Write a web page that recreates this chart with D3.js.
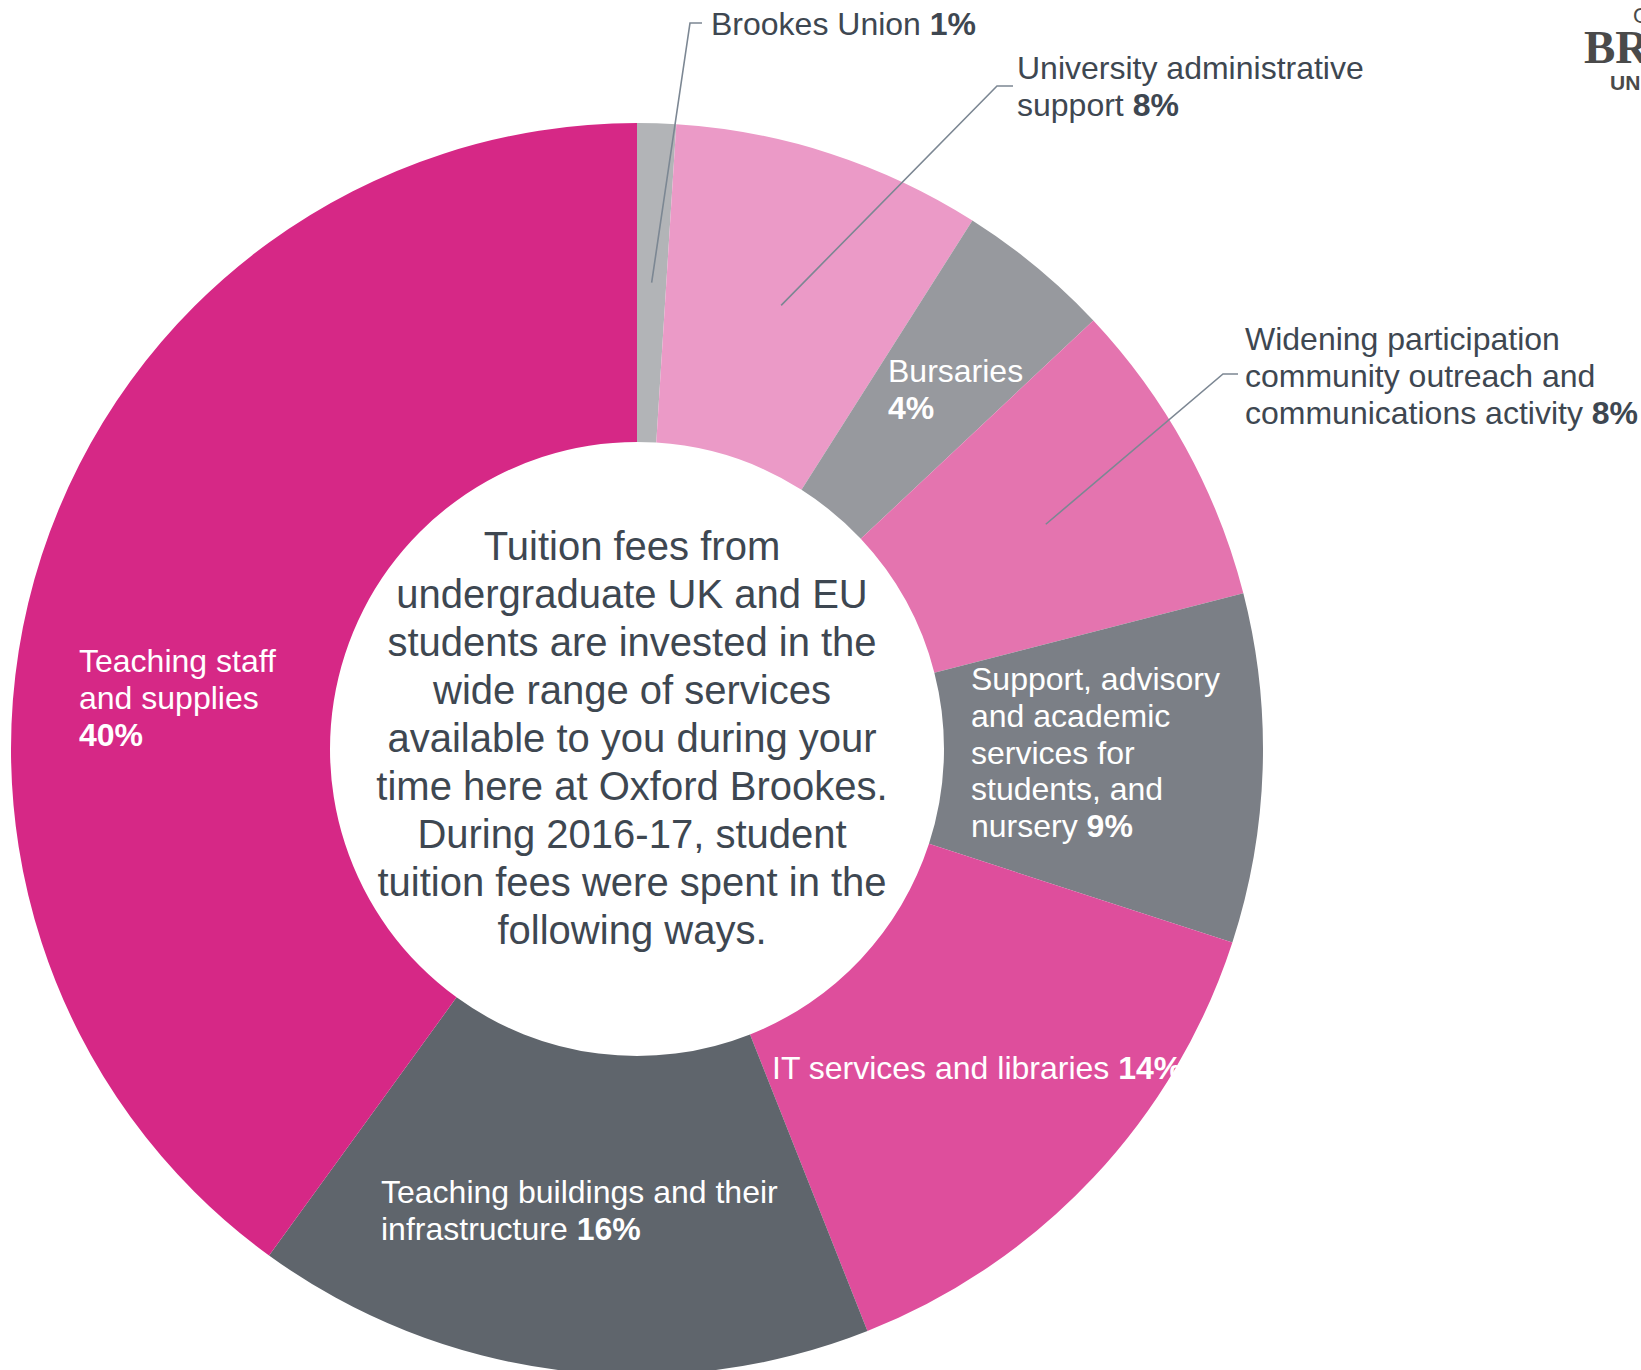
<!DOCTYPE html>
<html>
<head>
<meta charset="utf-8">
<script src="https://cdn.jsdelivr.net/npm/d3@7"></script>
<style>
  body { margin: 0; background: #fff; }
  svg { display: block; }
  text { font-family: 'Liberation Sans', Arial, sans-serif; }
  .label { font-size: 32px; fill: #3e4751; }
  .label.inside { fill: #fff; }
  .centre { font-size: 40px; fill: #3e4751; }
  .leader { fill: none; stroke: #7c8793; stroke-width: 1.6; }
</style>
</head>
<body>
<div id="chart"></div>
<script>
// Spending categories, clockwise from 12 o'clock.
var categories = [
  'Brookes Union',
  'University administrative support',
  'Bursaries',
  'Widening participation community outreach and communications activity',
  'Support, advisory and academic services for students, and nursery',
  'IT services and libraries',
  'Teaching buildings and their infrastructure',
  'Teaching staff and supplies'
];
var values = [1, 8, 4, 8, 9, 14, 16, 40];

// Label lines as printed; the bold percentage goes after the last line
// (an empty last line means the percentage sits on a line of its own).
var labelLines = [
  ['Brookes Union'],
  ['University administrative', 'support'],
  ['Bursaries', ''],
  ['Widening participation', 'community outreach and', 'communications activity'],
  ['Support, advisory', 'and academic', 'services for', 'students, and', 'nursery'],
  ['IT services and libraries'],
  ['Teaching buildings and their', 'infrastructure'],
  ['Teaching staff', 'and supplies', '']
];

var centreLines = [
  'Tuition fees from',
  'undergraduate UK and EU',
  'students are invested in the',
  'wide range of services',
  'available to you during your',
  'time here at Oxford Brookes.',
  'During 2016-17, student',
  'tuition fees were spent in the',
  'following ways.'
];

var colors = ['#b2b4b7', '#eb9ac7', '#97999e', '#e474af', '#7b7f86', '#de4e9c', '#5f656c', '#d62886'];

// Layout: where each label sits, and the elbow of its leader line (if any).
var layout = [
  {x: 711, y: 35, inside: false, elbow: [690, 23], tick: 702},
  {x: 1017, y: 79, inside: false, elbow: [997, 86], tick: 1013},
  {x: 888, y: 382, inside: true},
  {x: 1245, y: 350, inside: false, elbow: [1223, 374], tick: 1238},
  {x: 971, y: 690, inside: true},
  {x: 772, y: 1079, inside: true},
  {x: 381, y: 1203, inside: true},
  {x: 79, y: 672, inside: true}
];

var width = 1641, height = 1370;
var cx = 637, cy = 749;
var outerR = 626, innerR = 307;
var lineH = 36.8, centreLineH = 48;

var svg = d3.select('#chart').append('svg')
    .attr('width', width)
    .attr('height', height);

var rows = categories.map(function(c, i) { return {name: c, value: values[i], i: i}; });

var pie = d3.pie().sort(null).value(function(d) { return d.value; });
var arc = d3.arc().innerRadius(innerR).outerRadius(outerR);
var arcs = pie(rows);

var g = svg.append('g')
    .attr('transform', 'translate(' + cx + ',' + cy + ')');

g.selectAll('path.slice').data(arcs)
  .enter().append('path')
    .classed('slice', true)
    .attr('d', arc)
    .style('fill', function(d) { return colors[d.data.i]; });

// Leader lines run from the slice centroid to the label.
var leaders = arcs.filter(function(d) { return layout[d.data.i].elbow; });
svg.selectAll('polyline.leader').data(leaders)
  .enter().append('polyline')
    .classed('leader', true)
    .attr('points', function(d) {
      var c = arc.centroid(d);
      var l = layout[d.data.i];
      return [[cx + c[0], cy + c[1]], l.elbow, [l.tick, l.elbow[1]]].join(' ');
    });

// Slice labels.
var labels = svg.selectAll('text.label').data(rows)
  .enter().append('text')
    .attr('class', function(d) { return 'label' + (layout[d.i].inside ? ' inside' : ''); });

labels.each(function(d) {
  var t = d3.select(this);
  var lines = labelLines[d.i];
  var l = layout[d.i];
  lines.forEach(function(line, j) {
    var last = j === lines.length - 1;
    if (line) {
      t.append('tspan')
          .attr('x', l.x)
          .attr('y', l.y + j * lineH)
          .text(line + (last ? ' ' : ''));
    }
    if (last) {
      var pct = t.append('tspan')
          .style('font-weight', 'bold')
          .text(d.value + '%');
      if (!line) {
        pct.attr('x', l.x).attr('y', l.y + j * lineH);
      }
    }
  });
});

// Centre text.
var centre = svg.append('text')
    .classed('centre', true)
    .attr('text-anchor', 'middle');
centre.selectAll('tspan').data(centreLines)
  .enter().append('tspan')
    .attr('x', cx - 5)
    .attr('y', function(d, i) { return 560 + i * centreLineH; })
    .text(function(d) { return d; });

// Logo, cropped by the right edge.
var logo = svg.append('g').style('fill', '#4a4a4a');
logo.append('text')
    .attr('x', 1633).attr('y', 23)
    .style('font-size', '22px')
    .text('OXFORD');
logo.append('text')
    .attr('x', 1584).attr('y', 63)
    .style('font-family', "'Liberation Serif', 'Times New Roman', serif")
    .style('font-weight', 'bold')
    .style('font-size', '47px')
    .text('BROOKES');
logo.append('text')
    .attr('x', 1610).attr('y', 90)
    .style('font-weight', 'bold')
    .style('font-size', '21px')
    .text('UNIVERSITY');
</script>
</body>
</html>
